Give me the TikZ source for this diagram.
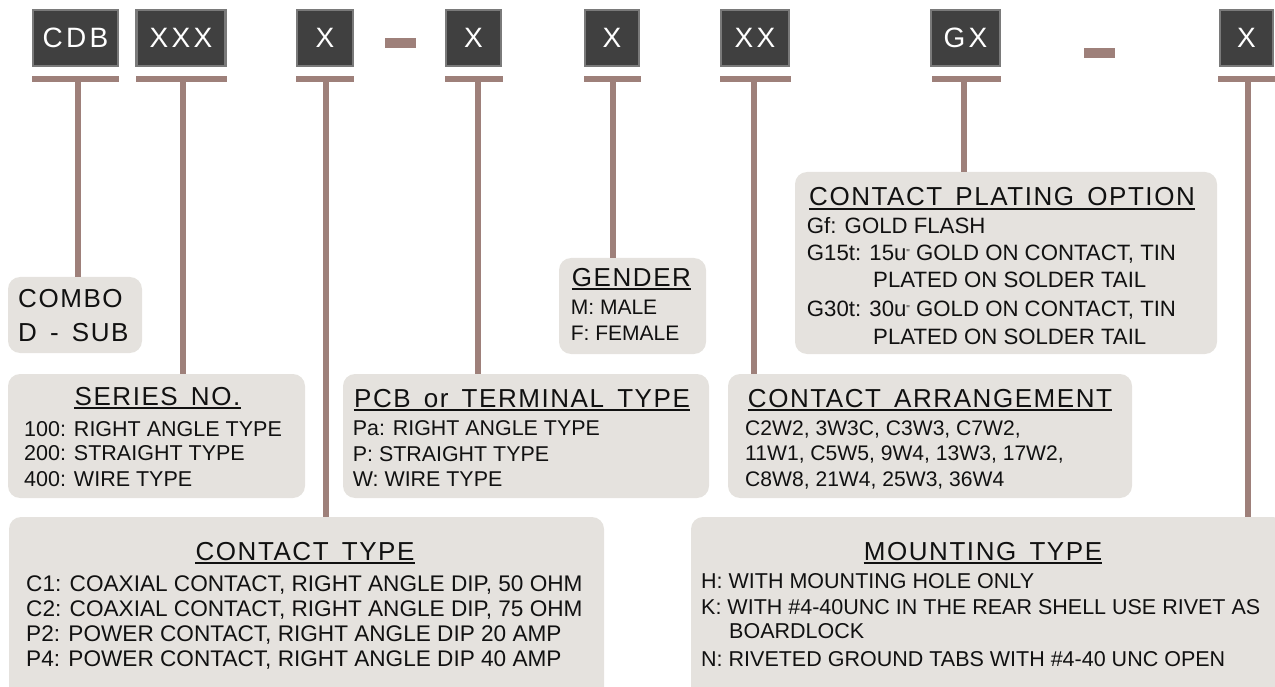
\documentclass[tikz,border=0pt]{standalone}
\usepackage{fontspec}
\setmainfont{Liberation Sans}
\newfontfamily\bodyfont{Liberation Sans}
\newfontfamily\titlefont[LetterSpace=6,WordSpace=1.5]{Liberation Sans}
\newfontfamily\topfont[LetterSpace=12]{Liberation Sans}
\definecolor{cConn}{HTML}{9E807A}
\definecolor{cPanel}{HTML}{E5E2DE}
\definecolor{cDark}{HTML}{404040}
\definecolor{cRim}{HTML}{7A7A7A}
\definecolor{cInk}{HTML}{111111}
\begin{document}
\begin{tikzpicture}[x=1pt,y=-1pt,
  code/.style={draw=cRim, line width=2.5pt, fill=cDark, text=white,
    font=\topfont\fontsize{28}{28}\selectfont, minimum height=56pt, inner sep=0pt},
  bar/.style={fill=cConn, draw=none, minimum height=6pt, inner sep=0pt},
  dashbar/.style={fill=cConn, draw=none, minimum height=10pt, minimum width=31pt, inner sep=0pt},
  panelbox/.style={fill=cPanel, draw=none, rounded corners=12pt, inner sep=0pt},
  ttl/.style={font=\titlefont\fontsize{26}{26}\selectfont, text=cInk, inner sep=0pt, anchor=base},
  txt/.style={font=\bodyfont\fontsize{#1}{#1}\selectfont, text=cInk, inner sep=0pt, anchor=base west},
  txt/.default=22,
  big/.style={font=\titlefont\fontsize{26}{26}\selectfont, text=cInk, inner sep=0pt, anchor=base west},
  link/.style={draw=cConn, line width=6pt},
  uline/.style={draw=cInk, line width=2pt}
]
\useasboundingbox (0,0) rectangle (1275,687);
\clip (0,0) rectangle (1275,687);

% ---------- code boxes ----------
\node[code, minimum width=85pt] (cdb) at (75.5,38) {CDB};
\node[code, minimum width=89pt] (xxx) at (181,38) {XXX};
\node[code, minimum width=56pt] (xa) at (325,38) {X};
\node[dashbar] (d1) at (400.5,43.5) {};
\node[code, minimum width=55pt] (xb) at (473.5,38) {X};
\node[code, minimum width=54pt] (xc) at (612,38) {X};
\node[code, minimum width=68pt] (xx) at (755,38) {XX};
\node[code, minimum width=69pt] (gx) at (965.5,38) {GX};
\node[dashbar] (d2) at (1099,53.5) {};
\node[code, minimum width=53pt] (xl) at (1246.5,38) {X};

% ---------- bars ----------
\node[bar, minimum width=87pt] (bcdb) at (75.5,79) {};
\node[bar, minimum width=91pt] (bxxx) at (181,79) {};
\node[bar, minimum width=58pt] (bxa) at (325,79) {};
\node[bar, minimum width=58pt] (bxb) at (473.5,79) {};
\node[bar, minimum width=57pt] (bxc) at (612,79) {};
\node[bar, minimum width=71pt] (bxx) at (755,79) {};
\node[bar, minimum width=69pt] (bgx) at (966,79) {};
\node[bar, minimum width=58pt] (bxl) at (1246.5,79) {};

% ---------- panels ----------
\node[panelbox, minimum width=134pt, minimum height=76pt] (combo) at (75,315) {};
\node[panelbox, minimum width=297pt, minimum height=124pt] (series) at (156.5,436) {};
\node[panelbox, minimum width=147pt, minimum height=96pt] (gender) at (632.5,306) {};
\node[panelbox, minimum width=366pt, minimum height=124pt] (pcb) at (526,436) {};
\node[panelbox, minimum width=404pt, minimum height=124pt] (arr) at (930,436) {};
\node[panelbox, minimum width=422pt, minimum height=182pt] (plating) at (1006,263) {};
\node[panelbox, minimum width=595pt, minimum height=190pt] (ctype) at (306.5,612) {};
\node[panelbox, minimum width=594pt, minimum height=190pt] (mount) at (988,612) {};

% ---------- connectors ----------
\coordinate (vcdb) at (78,0);
\coordinate (vxxx) at (183,0);
\coordinate (vxa) at (326,0);
\coordinate (vxb) at (478,0);
\coordinate (vxc) at (613,0);
\coordinate (vxx) at (754,0);
\coordinate (vgx) at (964,0);
\coordinate (vxl) at (1248,0);
\draw[link] (bcdb.south -| vcdb) -- (combo.north -| vcdb);
\draw[link] (bxxx.south -| vxxx) -- (series.north -| vxxx);
\draw[link] (bxa.south -| vxa) -- (ctype.north -| vxa);
\draw[link] (bxb.south -| vxb) -- (pcb.north -| vxb);
\draw[link] (bxc.south -| vxc) -- (gender.north -| vxc);
\draw[link] (bxx.south -| vxx) -- (arr.north -| vxx);
\draw[link] (bgx.south -| vgx) -- (plating.north -| vgx);
\draw[link] (bxl.south -| vxl) -- (mount.north -| vxl);

% ---------- COMBO ----------
\node[big] (cb1) at (18,308) {COMBO};
\node[big] (cb2) at (18,341.7) {D - SUB};

% ---------- SERIES ----------
\node[ttl] (tseries) at (157.5,405) {SERIES NO.};
\draw[uline] ([yshift=-3pt]tseries.base west) -- ([yshift=-3pt]tseries.base east);
\node[txt=21.5] (s1) at (24,436.7) {100: RIGHT ANGLE TYPE};
\node[txt=21.5] (s2) at (24,460.7) {200: STRAIGHT TYPE};
\node[txt=21.5] (s3) at (24,486) {400: WIRE TYPE};

% ---------- GENDER ----------
\node[ttl] (tgender) at (631.5,286.5) {GENDER};
\draw[uline] ([yshift=-3pt]tgender.base west) -- ([yshift=-3pt]tgender.base east);
\node[txt=21] (g1) at (570.7,315) {M: MALE};
\node[txt=21] (g2) at (570.7,340) {F: FEMALE};

% ---------- PCB ----------
\node[ttl] (tpcb) at (522,407) {PCB or TERMINAL TYPE};
\draw[uline] ([yshift=-3pt]tpcb.base west) -- ([yshift=-3pt]tpcb.base east);
\node[txt=21.4] (p1) at (352.7,435) {Pa: RIGHT ANGLE TYPE};
\node[txt=21.4] (p2) at (352.7,461.7) {P: STRAIGHT TYPE};
\node[txt=21.4] (p3) at (352.7,486.7) {W: WIRE TYPE};

% ---------- ARRANGEMENT ----------
\node[ttl] (tarr) at (930,407) {CONTACT ARRANGEMENT};
\draw[uline] ([yshift=-3pt]tarr.base west) -- ([yshift=-3pt]tarr.base east);
\node[txt=21.1] (a1) at (745,435) {C2W2, 3W3C, C3W3, C7W2,};
\node[txt=21.1] (a2) at (745,460.7) {11W1, C5W5, 9W4, 13W3, 17W2,};
\node[txt=21.1] (a3) at (745,486.7) {C8W8, 21W4, 25W3, 36W4};

% ---------- PLATING ----------
\node[ttl] (tplat) at (1002,206) {CONTACT PLATING OPTION};
\draw[uline] ([yshift=-3pt]tplat.base west) -- ([yshift=-3pt]tplat.base east);
\node[txt=22.2] (pl1) at (806.7,234) {Gf: GOLD FLASH};
\node[txt=22.2] (pl2) at (806.7,260.7) {G15t: 15u\raisebox{4pt}{\fontsize{10}{10}\selectfont"} GOLD ON CONTACT, TIN};
\node[txt=22.2] (pl3) at (873,287.7) {PLATED ON SOLDER TAIL};
\node[txt=22.2] (pl4) at (806.7,316.7) {G30t: 30u\raisebox{4pt}{\fontsize{10}{10}\selectfont"} GOLD ON CONTACT, TIN};
\node[txt=22.2] (pl5) at (873,344) {PLATED ON SOLDER TAIL};

% ---------- CONTACT TYPE ----------
\node[ttl] (tct) at (305,560) {CONTACT TYPE};
\draw[uline] ([yshift=-3pt]tct.base west) -- ([yshift=-3pt]tct.base east);
\node[txt=22.6] (c1) at (26,591.7) {C1: COAXIAL CONTACT, RIGHT ANGLE DIP, 50 OHM};
\node[txt=22.6] (c2) at (26,616.7) {C2: COAXIAL CONTACT, RIGHT ANGLE DIP, 75 OHM};
\node[txt=22.6] (c3) at (26,641.7) {P2: POWER CONTACT, RIGHT ANGLE DIP 20 AMP};
\node[txt=22.6] (c4) at (26,666.7) {P4: POWER CONTACT, RIGHT ANGLE DIP 40 AMP};

% ---------- MOUNTING ----------
\node[ttl] (tmt) at (983,560) {MOUNTING TYPE};
\draw[uline] ([yshift=-3pt]tmt.base west) -- ([yshift=-3pt]tmt.base east);
\node[txt=21.5] (m1) at (701,588.3) {H: WITH MOUNTING HOLE ONLY};
\node[txt=21.5] (m2) at (701,614) {K: WITH \#4-40UNC IN THE REAR SHELL USE RIVET AS};
\node[txt=21.5] (m3) at (729,638.3) {BOARDLOCK};
\node[txt=21.5] (m4) at (701,666.7) {N: RIVETED GROUND TABS WITH \#4-40 UNC OPEN};
\end{tikzpicture}
\end{document}
